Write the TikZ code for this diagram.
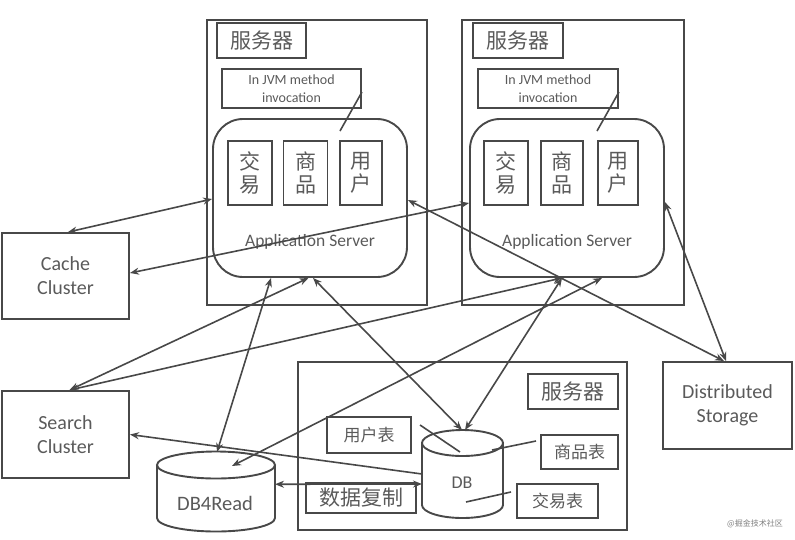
\documentclass[tikz,border=0pt]{standalone}
\usepackage{fontspec}
\setmainfont{Carlito}
\newfontfamily\cjk{Noto Sans CJK SC}
\usetikzlibrary{arrows.meta}
\definecolor{ln}{HTML}{484848}
\definecolor{tx}{HTML}{5A5A5A}
\begin{document}
\begin{tikzpicture}[x=1pt,y=-1pt,
  box/.style={draw=ln, line width=1.9pt, inner sep=0pt, text=tx, align=center},
  ghost/.style={inner sep=0pt, outer sep=0pt},
  txt/.style={text=tx, inner sep=0pt, align=center},
  arr/.style={draw=ln, line width=1.6pt, {Stealth[length=9pt,width=7pt]}-{Stealth[length=9pt,width=7pt]}},
  arrl/.style={draw=ln, line width=1.6pt, {Stealth[length=9pt,width=7pt]}-},
  lnk/.style={draw=ln, line width=1.6pt},
  cyl/.style={draw=ln, line width=1.9pt, fill=white},
  en/.style={font=\fontsize{20}{24}\selectfont},
  cn/.style={font=\cjk\fontsize{21}{23}\selectfont},
  cns/.style={font=\cjk\fontsize{17}{20}\selectfont}
]
\useasboundingbox (0,0) rectangle (795,539);

% ---------- server 1 ----------
\node[box, minimum width=220pt, minimum height=285pt] (srv1) at (317,162.5) {};
\node[box, cn, minimum width=89pt, minimum height=35pt] (lab1) at (261.5,40.5) {服务器};
\node[box, minimum width=139pt, minimum height=39pt, font=\fontsize{14}{18}\selectfont] (jvm1) at (291.5,88.5) {In JVM method\\invocation};
\node[box, rounded corners=30pt, minimum width=194pt, minimum height=158pt] (app1) at (310,198) {};
\node[box, cn, minimum width=44pt, minimum height=64pt] (jy1) at (250,173) {交\\易};
\node[box, cn, minimum width=44pt, minimum height=64pt] (sp1) at (305.5,173) {商\\品};
\node[box, cn, minimum width=42pt, minimum height=64pt] (yh1) at (361,173) {用\\户};
\node[txt, font=\fontsize{17.5}{20}\selectfont] (as1) at (310,242) {Application Server};
\draw[lnk] ([yshift=-3.5pt]jvm1.east) -- (340,131);

% ---------- server 2 ----------
\node[box, minimum width=222pt, minimum height=285pt] (srv2) at (573,162.5) {};
\node[box, cn, minimum width=90pt, minimum height=35pt] (lab2) at (518,40.5) {服务器};
\node[box, minimum width=140pt, minimum height=39pt, font=\fontsize{14}{18}\selectfont] (jvm2) at (548,88.5) {In JVM method\\invocation};
\node[box, rounded corners=30pt, minimum width=194pt, minimum height=158pt] (app2) at (567,198) {};
\node[box, cn, minimum width=44pt, minimum height=64pt] (jy2) at (506,173) {交\\易};
\node[box, cn, minimum width=42pt, minimum height=64pt] (sp2) at (562,173) {商\\品};
\node[box, cn, minimum width=40pt, minimum height=64pt] (yh2) at (618,173) {用\\户};
\node[txt, font=\fontsize{17.5}{20}\selectfont] (as2) at (567,242) {Application Server};
\draw[lnk] ([yshift=-3.5pt]jvm2.east) -- (597,131);

% ---------- left / right boxes ----------
\node[box, en, minimum width=127pt, minimum height=86pt] (cache) at (65.5,276) {Cache\\Cluster};
\node[box, en, minimum width=127pt, minimum height=87pt] (search) at (65.5,434.5) {Search\\Cluster};
\node[box, en, minimum width=129pt, minimum height=87pt] (ds) at (727.5,405.5) {Distributed\\Storage};

% ---------- bottom server ----------
\node[box, minimum width=329pt, minimum height=168pt] (srv3) at (462.5,446) {};
\node[box, cn, minimum width=90pt, minimum height=35pt] (lab3) at (573,391.5) {服务器};
\node[box, cns, minimum width=84pt, minimum height=36pt] (yhb) at (369,435) {用户表};
\node[box, cns, minimum width=77pt, minimum height=34pt] (spb) at (579.5,452) {商品表};
\node[box, cns, minimum width=81pt, minimum height=34pt] (jyb) at (557.5,501) {交易表};
\node[box, cn, minimum width=110pt, minimum height=30pt] (copy) at (361,498) {数据复制};

% DB cylinder
\draw[cyl] (422,443) -- (422,505) arc[start angle=180, end angle=360, x radius=40.5pt, y radius=13pt] -- (503,443);
\draw[cyl] (462.5,443) ellipse[x radius=40.5pt, y radius=13pt];
\node[ghost, minimum width=81pt, minimum height=88pt] (db) at (462.5,474) {};
\node[txt, font=\fontsize{18}{20}\selectfont] (dbt) at (462,483) {DB};

% DB4Read cylinder
\draw[cyl] (157,465) -- (157,518) arc[start angle=180, end angle=360, x radius=59pt, y radius=13.5pt] -- (275,465);
\draw[cyl] (216,465) ellipse[x radius=59pt, y radius=13.5pt];
\node[ghost, minimum width=118pt, minimum height=79.5pt] (db4r) at (216,491.75) {};
\node[txt, font=\fontsize{20.5}{22}\selectfont] (db4rt) at (215,503) {DB4Read};

% table callout lines
\draw[lnk] (420,425) -- (460,452);
\draw[lnk] (536,441) -- (492,450);
\draw[lnk] (511,492) -- (466,502);

% ---------- connectors ----------
\draw[arr] ([xshift=2.5pt]cache.north) -- ([yshift=-1pt]app1.west);
\draw[arr] ([yshift=3pt]cache.east) -- ([yshift=-5pt]app2.west);
\draw[arr] ([xshift=4pt]search.north) -- ([xshift=-1.5pt]app1.south);
\draw[arr] ([xshift=4pt]search.north) -- ([xshift=-5pt]app2.south);
\draw[arr] ([xshift=-39pt]app1.south) -- ([xshift=1pt]db4r.north);
\draw[arr] ([xshift=35pt]app2.south) -- ([xshift=16pt,yshift=-14pt]db4r.north);
\draw[arr] ([xshift=3pt]app1.south) -- ([xshift=-0.5pt]db.north);
\draw[arr] ([xshift=-5pt]app2.south) -- ([xshift=2.5pt]db.north);
\draw[arr] ([yshift=-2pt]app1.east) -- ([xshift=-3.5pt]ds.north);
\draw[arr] ([yshift=-4pt]app2.east) -- ([xshift=-1.5pt]ds.north);
\draw[arrl] (search.east) -- (db.west);
\draw[arr] ([yshift=7.5pt]db4r.east) -- ([yshift=-10pt]db.west);

% watermark
\node[txt, text=gray, font=\cjk\fontsize{8}{9}\selectfont] (wm) at (755,524) {@掘金技术社区};
\end{tikzpicture}
\end{document}
